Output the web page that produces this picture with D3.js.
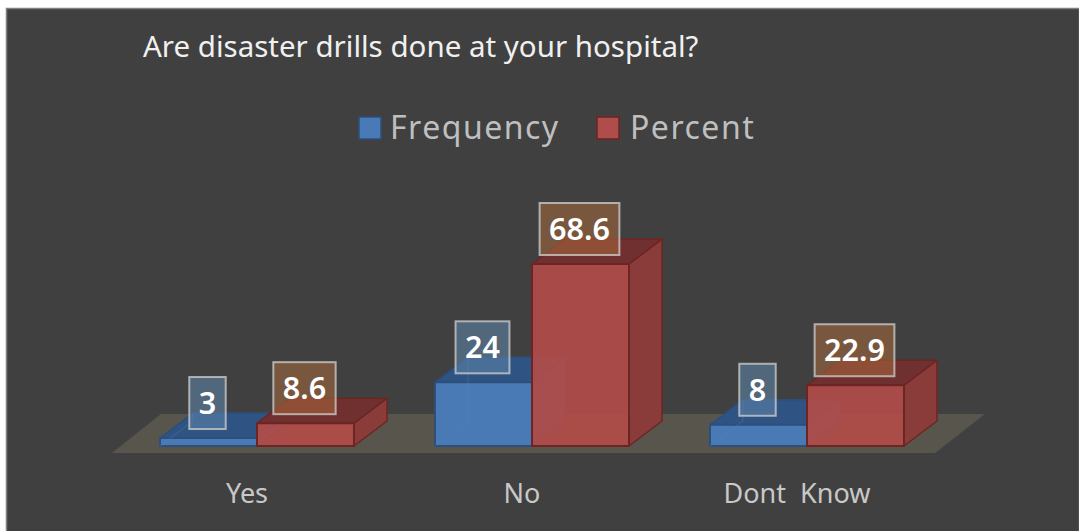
<!DOCTYPE html>
<html>
<head>
<meta charset="utf-8">
<script src="https://cdn.jsdelivr.net/npm/d3@7"></script>
<style>
html,body{margin:0;padding:0;background:#fff;}
svg{display:block;}
text{font-family:"Noto Sans",sans-serif;}
</style>
</head>
<body>
<svg id="chart" width="1079" height="531"></svg>
<script>
const categories = ["Yes", "No", "Dont  Know"];
const seriesNames = ["Frequency", "Percent"];
const frequency = [3, 24, 8];
const percent = [8.6, 68.6, 22.9];
const labelFrequency = ["3", "24", "8"];
const labelPercent = ["8.6", "68.6", "22.9"];
const title = "Are disaster drills done at your hospital?";

const svg = d3.select("#chart");
const W = 1079, H = 531;

// panel
svg.append("rect").attr("x",6.5).attr("y",8.5).attr("width",W-6).attr("height",H).attr("fill","#404040").attr("stroke","#808080").attr("stroke-width",1.5);

// scales
const baseY = 446;
const y = d3.scaleLinear().domain([0,68.6]).range([baseY,264]);
const x0 = d3.scaleBand().domain(categories).range([119.5,944.5]).paddingInner(0);
const barW = 97;
const x1 = d3.scaleBand().domain(seriesNames).range([x0.bandwidth()/2-barW, x0.bandwidth()/2+barW]);
const dx = 33, dy = -25;
const line = d3.line();

// floor
const fl = [[112,453],[935,453],[985,414],[161,414]];
svg.append("path").attr("d",line(fl)+"Z").attr("fill","#58564c");

const colors = {
  Frequency:{front:"#4a7ab6",top:"#2f5382",side:"#3a6296",edge:"#2c4f7c",hidden:"#5585bb"},
  Percent:{front:"#b04c49",top:"#6f302f",side:"#8a3c3a",edge:"#6d2523",hidden:"#bd5e5a"}
};

const rows = [];
categories.forEach((c,i)=>{
  rows.push({c,s:"Frequency",v:frequency[i],label:labelFrequency[i]});
  rows.push({c,s:"Percent",v:percent[i],label:labelPercent[i]});
});

const gBars = svg.append("g");
rows.forEach(d=>{
  const l = x0(d.c)+x1(d.s), r = l+barW, t = y(d.v), b = y(0);
  const col = colors[d.s];
  const g = gBars.append("g").attr("stroke-linejoin","round");
  g.append("path").attr("d",line([[r,b],[r+dx,b+dy],[r+dx,t+dy],[r,t]])+"Z").attr("fill",col.side).attr("stroke",col.edge).attr("stroke-width",1.5);
  g.append("path").attr("d",line([[l,t],[l+dx,t+dy],[r+dx,t+dy],[r,t]])+"Z").attr("fill",col.top).attr("stroke",col.edge).attr("stroke-width",1.5);
  g.append("path").attr("d",line([[l,b],[r,b],[r,t],[l,t]])+"Z").attr("fill",col.front).attr("fill-opacity",d.s==="Percent"?0.93:1).attr("stroke",col.edge).attr("stroke-width",2);
  if (d.s==="Frequency") {
    g.append("path").attr("d",line([[l,b],[l+dx,b+dy],[l+dx,t+dy]])).attr("fill","none").attr("stroke",col.hidden).attr("stroke-width",1).attr("stroke-opacity",0.4);
  }
});

// data labels
const gLabels = svg.append("g");
rows.forEach(d=>{
  const cx = x0(d.c)+x1(d.s)+barW/2-1;
  const cy = y(d.v)-35;
  const g = gLabels.append("g");
  const rect = g.append("rect");
  const t = g.append("text").attr("x",cx).attr("y",cy+11).attr("text-anchor","middle")
    .attr("font-size",30.5).attr("font-weight",600).attr("fill","#ffffff").text(d.label);
  const w = t.node().getComputedTextLength()+19;
  const fill = d.s==="Frequency" ? "#5f87ad" : "#a86a3c";
  rect.attr("x",cx-w/2).attr("y",cy-26).attr("width",w).attr("height",52)
    .attr("fill",fill).attr("fill-opacity",0.55)
    .attr("stroke","#c9c9c9").attr("stroke-opacity",0.8).attr("stroke-width",2);
});

// category labels
svg.append("g").selectAll("text").data(categories).join("text")
  .attr("x",d=>x0(d)+x0.bandwidth()/2-10).attr("y",503).attr("text-anchor","middle")
  .attr("font-size",27).attr("fill","#c8c8c8").style("white-space","pre").text(d=>d);

// title
svg.append("text").attr("x",143).attr("y",57).attr("font-size",29.5).attr("fill","#f0f0f0").text(title);

// legend
const legendX = {Frequency:359, Percent:597};
const legendTextX = {Frequency:390, Percent:630};
const gLeg = svg.append("g");
seriesNames.forEach(s=>{
  gLeg.append("rect").attr("x",legendX[s]).attr("y",117).attr("width",22).attr("height",22)
    .attr("fill",colors[s].front).attr("stroke",colors[s].edge).attr("stroke-width",1.5);
  gLeg.append("text").attr("x",legendTextX[s]).attr("y",139).attr("font-size",32)
    .attr("letter-spacing",1.5).attr("fill","#bfbfbf").text(s);
});
</script>
</body>
</html>
